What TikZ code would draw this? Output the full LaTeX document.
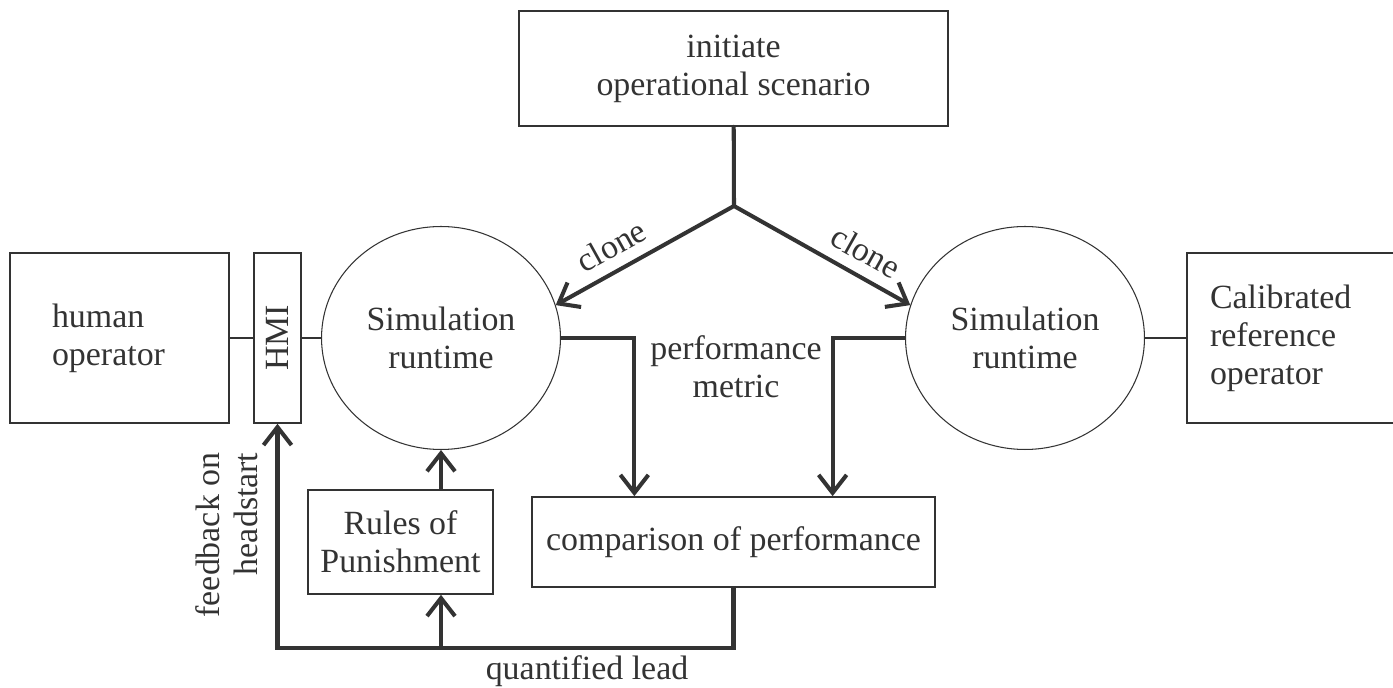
\documentclass[tikz,border=0pt]{standalone}
\usepackage{fontspec}
\setmainfont{Liberation Serif}
\usetikzlibrary{arrows.meta,positioning,shapes.geometric,calc}
\definecolor{ink}{HTML}{333333}
\tikzset{
  box/.style={draw=ink,line width=0.95pt,text=ink,align=center,inner sep=0pt},
  simnode/.style={ellipse,draw=ink,line width=0.6pt,text=ink,align=center,minimum width=4.78cm,minimum height=4.46cm,inner sep=0pt},
  link/.style={draw=ink,line width=0.85pt},
  bar/.style={draw=ink,line width=2.3pt,line cap=round},
  arrow/.style={draw=ink,line width=2.3pt,-{Straight Barb[length=3.6mm,width=5.6mm]}},
  lbl/.style={text=ink,align=center},
}

\begin{document}
\begin{tikzpicture}[x=0.02cm,y=-0.02cm,font=\fontsize{19.3pt}{21.6pt}\selectfont]
  \useasboundingbox (0,0) rectangle (1393,688);
  % scenario and the two clones
  \node[box,minimum width=8.58cm,minimum height=2.3cm] (start) at (733.5,68.5) {initiate\\operational scenario};
  \coordinate (fork) at (734,206);
  \node[box,minimum height=3.4cm,text width=2.7cm,align=left,inner xsep=0.84cm] (human) at (119.5,338) {human\\operator};
  \node[box,minimum width=0.94cm,minimum height=3.4cm] (hmi) at (277.5,338) {};
  \node[lbl,rotate=90] (hmitext) at (hmi) {HMI};
  \node[simnode] (simL) at (441,338) {Simulation\\runtime};
  \node[simnode] (simR) at (1025,338) {Simulation\\runtime};
  \node[box,minimum height=3.4cm,text width=3.34cm,align=left,inner xsep=0.46cm] (calib) at (1293.5,338) {Calibrated\\reference\\operator};
  \node[box,minimum width=3.7cm,minimum height=2.08cm] (rules) at (400.5,542) {Rules of\\Punishment};
  \node[box,minimum width=8.06cm,minimum height=1.8cm] (comp) at (733.5,542) {comparison of performance};
  \draw[bar] (start) -- (fork);
  \draw[arrow,line cap=round] (fork) -- node[lbl,sloped,above=3pt,pos=.62] {clone} (simL.16);
  \draw[arrow,line cap=round] (fork) -- node[lbl,sloped,above=3pt,pos=.68] {clone} (simR.164);
  \draw[link] (human) -- (hmi);
  \draw[link] (hmi) -- (simL);
  \draw[link] (simR) -- (calib);
  % performance and feedback
  \draw[arrow] (simL.east) -| ($(comp.north west)!.255!(comp.north east)$);
  \draw[arrow] (simR.west) -| ($(comp.north west)!.745!(comp.north east)$);
  \node[lbl] (metric) at (736,367) {performance\\metric};
  \draw[arrow] (rules.north -| simL) -- (simL.south);
  \coordinate (corner) at ($(comp.south)+(0,60)$);
  \draw[arrow] (comp.south) -- (corner) -| (hmi.south);
  \draw[arrow] (corner -| simL) -- (rules.south -| simL);
  \node[lbl,rotate=90,align=right] (feedback) at (227,535) {feedback on\\headstart};
  \node[lbl] (lead) at (587,671) {quantified lead};
\end{tikzpicture}
\end{document}
